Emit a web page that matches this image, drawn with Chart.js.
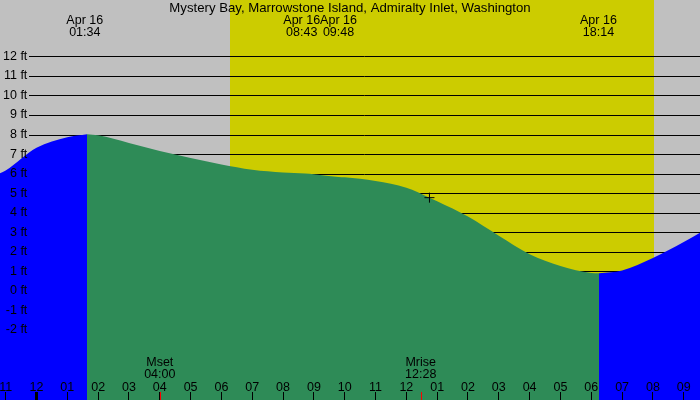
<!DOCTYPE html>
<html>
<head>
<meta charset="utf-8">
<title>Mystery Bay tides</title>
<script src="https://cdn.jsdelivr.net/npm/chart.js@4.4.1/dist/chart.umd.min.js"></script>
<style>
  html, body { margin: 0; padding: 0; background: #c0c0c0; }
  canvas { display: block; }
</style>
</head>
<body>
<canvas id="tideChart" width="700" height="400"></canvas>
<script>
// Tide heights (ft), x = hours from midnight Apr 16
const risingHours = [-1.184, -1, 0, 1, 1.639];
const risingFeet = [6.02, 6.16, 7.32, 7.86, 8.01];
const fallingHours = [1.639, 2, 3, 4, 5, 6, 7, 8, 8.717, 9, 9.8, 10, 11, 12, 12.75, 13, 14, 15, 16, 17, 18, 18.251];
const fallingFeet = [8.01, 7.96, 7.57, 7.16, 6.80, 6.47, 6.20, 6.06, 6.00, 5.97, 5.83, 5.81, 5.62, 5.28, 4.77, 4.58, 3.80, 2.82, 1.88, 1.28, 0.92, 0.90];
const lateHours = [18.251, 19, 20, 21, 21.528];
const lateFeet = [0.90, 1.05, 1.68, 2.50, 2.97];

// tide events shown across the top
const eventHours = [1.567, 8.717, 9.8, 18.233];
const eventTimes = ['01:34', '08:43', '09:48', '18:14'];
const eventDate = 'Apr 16';

// moon set / rise
const moonHours = [4.0, 12.467];
const moonNames = ['Mset', 'Mrise'];
const moonTimes = ['04:00', '12:28'];

// daylight
const sunriseHour = 6.28;
const sunsetHour = 20.04;

// current time marker
const nowHour = 12.75;
const nowFeet = 4.77;

const hourTicks = [-1, 0, 1, 2, 3, 4, 5, 6, 7, 8, 9, 10, 11, 12, 13, 14, 15, 16, 17, 18, 19, 20, 21];
const feetTicks = [-2, -1, 0, 1, 2, 3, 4, 5, 6, 7, 8, 9, 10, 11, 12];

const title = 'Mystery Bay, Marrowstone Island, Admiralty Inlet, Washington';

const FAMILY = '"Liberation Sans", Arial, sans-serif';
const FONT = '12.5px ' + FAMILY;
Chart.defaults.font.family = FAMILY;
Chart.defaults.font.size = 12.5;
Chart.defaults.color = '#000';

function toPoints(xs, ys) {
    return xs.map((x, i) => ({ x: x, y: ys[i] }));
}

function hourLabel(h) {
    const hr = ((h % 12) + 12) % 12 || 12;
    return String(hr).padStart(2, '0');
}

// keep axes from taking any room: labels sit inside the plot
function noRoom(scale) {
    if (scale.isHorizontal()) scale.height = 0;
    else scale.width = 0;
    scale.paddingLeft = 0;
    scale.paddingRight = 0;
    scale.paddingTop = 0;
    scale.paddingBottom = 0;
}

// Background, grid lines and annotations
const tideDecor = {
    id: 'tideDecor',
    beforeDraw(chart) {
        const ctx = chart.ctx;
        const xs = chart.scales.x;
        ctx.save();
        ctx.fillStyle = '#c0c0c0';
        ctx.fillRect(0, 0, chart.width, chart.height);
        const x1 = Math.round(xs.getPixelForValue(sunriseHour));
        const x2 = Math.round(xs.getPixelForValue(sunsetHour));
        ctx.fillStyle = '#cccc00';
        ctx.fillRect(x1, 0, x2 - x1, chart.height);
        ctx.restore();
    },
    beforeDatasetsDraw(chart) {
        const ctx = chart.ctx;
        const ys = chart.scales.y;
        ctx.save();
        ctx.strokeStyle = '#000';
        ctx.lineWidth = 1;
        feetTicks.forEach(ft => {
            const y = Math.round(ys.getPixelForValue(ft)) + 0.5;
            ctx.beginPath();
            ctx.moveTo(29, y);
            ctx.lineTo(chart.width, y);
            ctx.stroke();
        });
        ctx.restore();
    },
    afterDraw(chart) {
        const ctx = chart.ctx;
        const xs = chart.scales.x;
        ctx.save();
        ctx.fillStyle = '#000';
        ctx.textAlign = 'center';
        ctx.textBaseline = 'alphabetic';

        // title
        ctx.font = '13.2px ' + FAMILY;
        ctx.fillText(title, chart.width / 2, 11.5);

        // tide event labels, nudged left when they would overlap
        ctx.font = FONT;
        const centers = eventHours.map(h => xs.getPixelForValue(h));
        const widths = eventTimes.map(t => Math.max(ctx.measureText(eventDate).width, ctx.measureText(t).width));
        for (let i = centers.length - 2; i >= 0; i--) {
            const right = centers[i] + widths[i] / 2;
            const nextLeft = centers[i + 1] - widths[i + 1] / 2;
            if (right > nextLeft) centers[i] -= right - nextLeft;
        }
        centers.forEach((cx, i) => {
            ctx.fillText(eventDate, cx, 24);
            ctx.fillText(eventTimes[i], cx, 36);
        });

        // moon labels and red ticks
        moonHours.forEach((h, i) => {
            const px = xs.getPixelForValue(h);
            ctx.fillText(moonNames[i], px, 366);
            ctx.fillText(moonTimes[i], px, 378);
            const tx = Math.round(px) + 0.5;
            ctx.strokeStyle = '#ff0000';
            ctx.lineWidth = 1;
            ctx.beginPath();
            ctx.moveTo(tx, 392);
            ctx.lineTo(tx, 400);
            ctx.stroke();
        });
        ctx.restore();
    }
};

new Chart(document.getElementById('tideChart'), {
    type: 'line',
    data: {
        datasets: [
            {
                data: [{ x: nowHour, y: nowFeet }],
                showLine: false,
                pointStyle: 'cross',
                pointRadius: 5,
                borderColor: '#000',
                borderWidth: 1,
                fill: false,
                order: 0
            },
            {
                data: toPoints(risingHours, risingFeet),
                fill: 'start',
                backgroundColor: '#0000ff',
                borderColor: 'rgba(0,0,0,0)',
                borderWidth: 0,
                pointRadius: 0,
                cubicInterpolationMode: 'monotone',
                order: 1
            },
            {
                data: toPoints(fallingHours, fallingFeet),
                fill: 'start',
                backgroundColor: '#2e8b57',
                borderColor: 'rgba(0,0,0,0)',
                borderWidth: 0,
                pointRadius: 0,
                cubicInterpolationMode: 'monotone',
                order: 1
            },
            {
                data: toPoints(lateHours, lateFeet),
                fill: 'start',
                backgroundColor: '#0000ff',
                borderColor: 'rgba(0,0,0,0)',
                borderWidth: 0,
                pointRadius: 0,
                cubicInterpolationMode: 'monotone',
                order: 1
            }
        ]
    },
    options: {
        responsive: false,
        animation: false,
        layout: { padding: 0, autoPadding: false },
        plugins: {
            legend: { display: false },
            tooltip: { enabled: false }
        },
        scales: {
            x: {
                type: 'linear',
                position: 'bottom',
                min: -1.184,
                max: 21.528,
                border: { display: false },
                grid: {
                    z: 1,
                    drawOnChartArea: false,
                    drawTicks: true,
                    tickLength: -8,
                    color: '#000',
                    lineWidth: ctx => (ctx.tick && ctx.tick.value === 0 ? 3 : 1)
                },
                ticks: {
                    z: 1,
                    mirror: true,
                    padding: 5,
                    color: '#000',
                    maxRotation: 0,
                    autoSkip: false,
                    callback: v => hourLabel(v)
                },
                afterBuildTicks: scale => {
                    scale.ticks = hourTicks.map(v => ({ value: v }));
                },
                afterFit: noRoom
            },
            y: {
                type: 'linear',
                position: 'left',
                min: -5.58,
                max: 14.88,
                border: { display: false },
                grid: { display: false },
                ticks: {
                    z: 1,
                    mirror: true,
                    crossAlign: 'far',
                    padding: 3,
                    color: '#000',
                    callback: v => v + ' ft'
                },
                afterBuildTicks: scale => {
                    scale.ticks = feetTicks.map(v => ({ value: v }));
                },
                afterFit: noRoom
            }
        }
    },
    plugins: [tideDecor]
});
</script>
</body>
</html>
